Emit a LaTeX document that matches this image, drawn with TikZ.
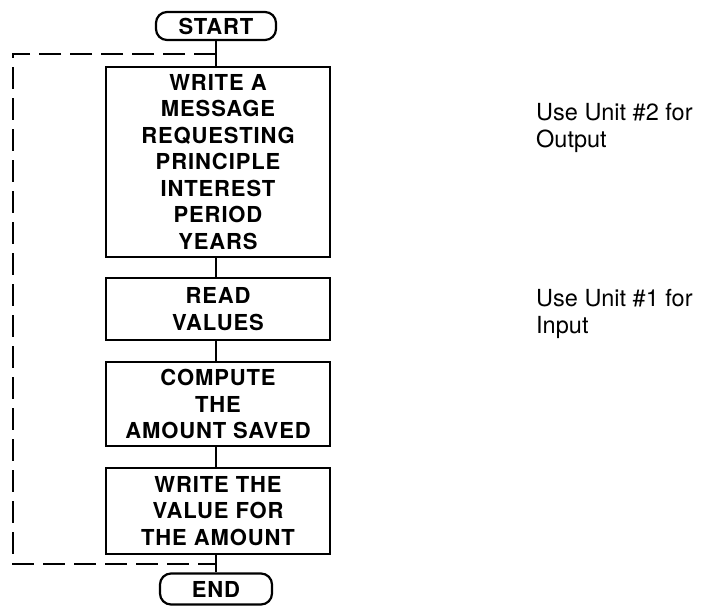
\documentclass[tikz,border=0pt]{standalone}
\usepackage{fontspec}
\setmainfont{TeX Gyre Heros}
\newfontfamily\boxfont[LetterSpace=4]{TeX Gyre Heros}
\usetikzlibrary{calc}

\tikzset{
  proc/.style={draw, line width=2.2pt, minimum width=224pt, inner sep=0pt,
    align=center, font=\boxfont\bfseries\fontsize{22}{26.5}\selectfont},
  term/.style={draw, line width=2.2pt, rounded corners=11pt, inner sep=0pt,
    font=\boxfont\bfseries\fontsize{22}{26.5}\selectfont},
  flow/.style={line width=2pt},
  loopline/.style={line width=2pt, dash pattern=on 22pt off 9pt},
  note/.style={inner sep=0pt, anchor=north west, align=left,
    font=\fontsize{23.5}{27}\selectfont}
}

\begin{document}
\begin{tikzpicture}[x=1pt, y=-1pt]
  \useasboundingbox (0,0) rectangle (706,606);

  % flowchart column
  \node[term, minimum width=120pt, minimum height=28pt] (start) at (216,26) {START};
  \node[proc, minimum height=190pt] (msg) at (218,162)
    {WRITE A\\MESSAGE\\REQUESTING\\PRINCIPLE\\INTEREST\\PERIOD\\YEARS};
  \node[proc, minimum height=62pt] (read) at (218,309) {READ\\VALUES};
  \node[proc, minimum height=84pt] (comp) at (218,404) {COMPUTE\\THE\\AMOUNT SAVED};
  \node[proc, minimum height=86pt] (out) at (218,511) {WRITE THE\\VALUE FOR\\THE AMOUNT};
  \node[term, minimum width=112pt, minimum height=31pt] (stop) at (216,589) {END};

  % connectors
  \draw[flow] (start.south) -- (start.south |- msg.north);
  \draw[flow] (msg.south -| start) -- (read.north -| start);
  \draw[flow] (read.south -| start) -- (comp.north -| start);
  \draw[flow] (comp.south -| start) -- (out.north -| start);
  \draw[flow] (out.south -| start) -- (stop.north);

  % dashed loop back to the top
  \coordinate (looptop) at ($(start.south)!0.5!(start.south |- msg.north)$);
  \coordinate (loopbot) at ($(out.south -| start)!0.5!(stop.north)$);
  \coordinate (loopx) at (12.7,0);
  \draw[loopline] (looptop) -- (looptop -| loopx) -- (loopbot -| loopx) -- (loopbot);

  % side notes
  \node[note] (n2) at (536,103) {Use Unit \#2 for\\Output};
  \node[note] (n1) at (536,289) {Use Unit \#1 for\\Input};
\end{tikzpicture}
\end{document}
